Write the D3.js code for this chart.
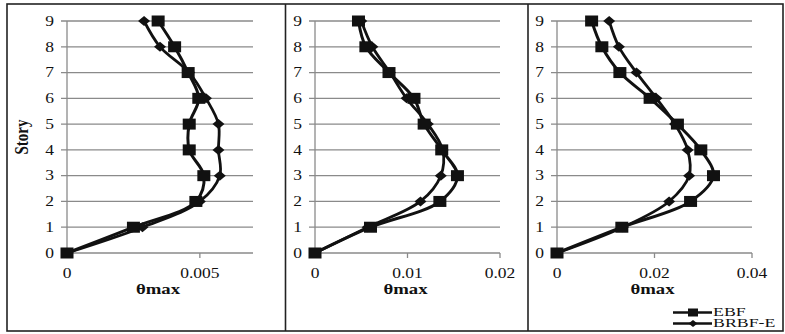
<!DOCTYPE html>
<html>
<head>
<meta charset="utf-8">
<script src="https://cdn.jsdelivr.net/npm/d3@7"></script>
<style>
  body { margin: 0; background: #fff; }
  svg { display: block; }
</style>
</head>
<body>
<svg id="chart" width="785" height="334"></svg>
<script>
// story levels
const stories = [0, 1, 2, 3, 4, 5, 6, 7, 8, 9];

// panel 1
const ebf1  = [0, 0.0025, 0.00485, 0.00515, 0.0046, 0.0046, 0.00496, 0.00456, 0.00405, 0.00343];
const brbf1 = [0, 0.00284, 0.005, 0.00575, 0.0057, 0.0057, 0.00523, 0.0046, 0.0035, 0.0029];
const ticks1 = [0, 0.005];
const labels1 = ['0', '0.005'];

// panel 2
const ebf2  = [0, 0.0060, 0.0135, 0.0154, 0.0137, 0.0118, 0.0107, 0.0080, 0.0055, 0.0047];
const brbf2 = [0, 0.0057, 0.0114, 0.0136, 0.0138, 0.0122, 0.0099, 0.0081, 0.0062, 0.0050];
const ticks2 = [0, 0.01, 0.02];
const labels2 = ['0', '0.01', '0.02'];

// panel 3
const ebf3  = [0, 0.0133, 0.0274, 0.0321, 0.0295, 0.0247, 0.0191, 0.0129, 0.0092, 0.0071];
const brbf3 = [0, 0.0135, 0.0230, 0.0271, 0.0268, 0.0242, 0.0204, 0.0163, 0.0127, 0.0107];
const ticks3 = [0, 0.02, 0.04];
const labels3 = ['0', '0.02', '0.04'];

const seriesNames = ['EBF', 'BRBF-E'];

const panels = [
  {ebf: ebf1, brbf: brbf1, ticks: ticks1, labels: labels1, max: 0.007, x0: 67, x1: 253},
  {ebf: ebf2, brbf: brbf2, ticks: ticks2, labels: labels2, max: 0.02, x0: 315, x1: 500},
  {ebf: ebf3, brbf: brbf3, ticks: ticks3, labels: labels3, max: 0.04, x0: 557, x1: 752}
];

const svg = d3.select('#chart');
const font = '"Liberation Serif", "Times New Roman", serif';
const gridColor = '#8a8a8a';
const stretch = 1.25; // the original figure is stretched horizontally

const y = d3.scaleLinear().domain([0, 9]).range([253, 21]);

// text helper, scaled horizontally like the source image
function addText(x, yy, str, opts) {
  opts = opts || {};
  const sx = opts.sx || stretch;
  const g = svg.append('g')
      .attr('transform', `translate(${x},${yy})${opts.rotate ? ' rotate(' + opts.rotate + ')' : ''} scale(${opts.rotate ? 1 : sx},${opts.rotate ? sx : 1})`);
  g.append('text')
      .attr('text-anchor', opts.anchor || 'middle')
      .attr('dy', opts.dy || 0)
      .attr('font-family', font)
      .attr('font-size', opts.size || 14)
      .attr('font-weight', opts.bold ? 'bold' : 'normal')
      .attr('fill', '#111')
      .text(str);
}

function square(g, cx, cy, w, h) {
  g.append('rect')
      .attr('x', cx - w / 2).attr('y', cy - h / 2)
      .attr('width', w).attr('height', h)
      .attr('fill', '#111');
}

function diamond(g, cx, cy, w, h) {
  g.append('path')
      .attr('d', `M${cx - w / 2},${cy}L${cx},${cy - h / 2}L${cx + w / 2},${cy}L${cx},${cy + h / 2}Z`)
      .attr('fill', '#111');
}

panels.forEach(p => {
  const x = d3.scaleLinear().domain([0, p.max]).range([p.x0, p.x1]);
  const g = svg.append('g');

  // horizontal gridlines with small ticks to the left
  g.selectAll('.grid')
    .data(stories)
    .join('line')
      .attr('x1', p.x0 - 6).attr('x2', p.x1)
      .attr('y1', d => y(d)).attr('y2', d => y(d))
      .attr('stroke', gridColor).attr('stroke-width', 1.3);

  // vertical axis
  g.append('line')
      .attr('x1', p.x0).attr('x2', p.x0)
      .attr('y1', y(9)).attr('y2', y(0) + 5)
      .attr('stroke', gridColor).attr('stroke-width', 1.3);

  // x ticks
  g.selectAll('.xtick')
    .data(p.ticks)
    .join('line')
      .attr('x1', d => x(d)).attr('x2', d => x(d))
      .attr('y1', y(0)).attr('y2', y(0) + 5)
      .attr('stroke', gridColor).attr('stroke-width', 1.3);

  stories.forEach(s => addText(p.x0 - 13, y(s), String(s), {anchor: 'end', dy: '0.34em'}));
  p.ticks.forEach((t, i) => addText(x(t), 278, p.labels[i]));
  addText((p.x0 + p.x1) / 2 - 2, 294, 'θmax', {bold: true, size: 15});

  const line = d3.line()
      .x(d => x(d[0]))
      .y(d => y(d[1]))
      .curve(d3.curveCatmullRom.alpha(0.5));

  const ebfPts = p.ebf.map((v, i) => [v, stories[i]]);
  const brbfPts = p.brbf.map((v, i) => [v, stories[i]]);

  g.append('path').attr('d', line(brbfPts))
      .attr('fill', 'none').attr('stroke', '#111').attr('stroke-width', 2.8);
  g.append('path').attr('d', line(ebfPts))
      .attr('fill', 'none').attr('stroke', '#111').attr('stroke-width', 3);

  brbfPts.forEach(d => diamond(g, x(d[0]), y(d[1]), 12, 10));
  ebfPts.forEach(d => square(g, x(d[0]), y(d[1]), 13, 11));
});

// y title
addText(28, 137, 'Story', {rotate: -90, bold: true, size: 15});

// frames
svg.append('rect')
    .attr('x', 7).attr('y', 4).attr('width', 776).attr('height', 327)
    .attr('fill', 'none').attr('stroke', '#222').attr('stroke-width', 1.6);
[285.5, 528].forEach(xx => {
  svg.append('line')
      .attr('x1', xx).attr('x2', xx).attr('y1', 4).attr('y2', 331)
      .attr('stroke', '#222').attr('stroke-width', 1.6);
});

// legend
const legend = svg.append('g');
seriesNames.forEach((name, i) => {
  const ly = 312.5 + i * 11;
  legend.append('line')
      .attr('x1', 673).attr('x2', 712).attr('y1', ly).attr('y2', ly)
      .attr('stroke', '#111').attr('stroke-width', 2.6);
  if (i === 0) square(legend, 693, ly, 10, 8);
  else diamond(legend, 693, ly, 9, 7);
  addText(713, ly, name, {anchor: 'start', dy: '0.34em', size: 11.5, sx: 1.55});
});
</script>
</body>
</html>
